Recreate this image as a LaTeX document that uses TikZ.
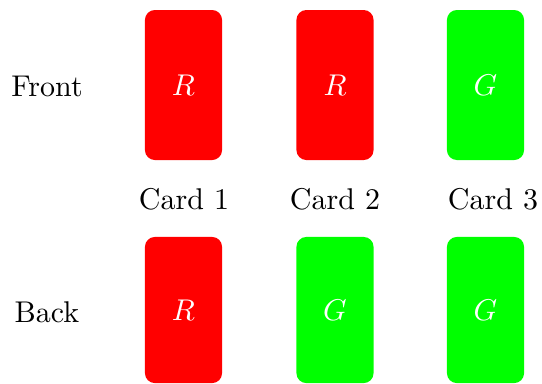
\documentclass[tikz,border=0pt]{standalone}
\usepackage{tikz}
\usepackage{xcolor}
\definecolor{cardred}{RGB}{255,0,0}
\definecolor{cardgreen}{RGB}{0,255,0}

\tikzset{
  card/.style={rectangle,
    rounded corners=3.3pt,
    minimum width=25.7pt,
    minimum height=50pt,
    inner sep=0pt,
    text=white},
  redcard/.style={card, fill=cardred},
  greencard/.style={card, fill=cardgreen},
  backcard/.style={minimum height=48.7pt}
}

\begin{document}
\begin{tikzpicture}[x=0.3333pt,y=-0.3333pt]
  \useasboundingbox (0,0) rectangle (542,383);

  % side labels
  \node (front) at (47,86) {Front};
  \node (back) at (47,312) {Back};

  % front faces
  \node[redcard] (front1) at (183.5,85) {$R$};
  \node[redcard] (front2) at (335,85) {$R$};
  \node[greencard] (front3) at (485.5,85) {$G$};

  % card names
  \node (name1) at (184,199) {Card 1};
  \node (name2) at (335,199) {Card 2};
  \node (name3) at (493,199) {Card 3};

  % back faces
  \node[redcard,backcard] (back1) at (183.5,310) {$R$};
  \node[greencard,backcard] (back2) at (335,310) {$G$};
  \node[greencard,backcard] (back3) at (485.5,310) {$G$};
\end{tikzpicture}
\end{document}
